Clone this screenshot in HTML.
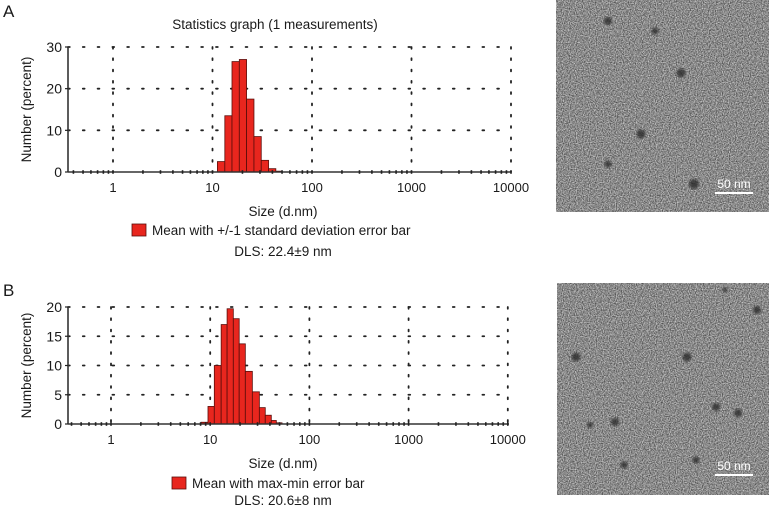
<!DOCTYPE html>
<html><head><meta charset="utf-8"><style>
body{margin:0;background:#fff;width:769px;height:510px;overflow:hidden;font-family:"Liberation Sans",Arial,sans-serif}
svg text{font-family:"Liberation Sans",Arial,sans-serif;fill:#1a1a1a}
</style></head><body>
<svg id="root" width="769" height="510" xmlns="http://www.w3.org/2000/svg">
<defs>
<filter id="noise" x="0" y="0" width="100%" height="100%" color-interpolation-filters="sRGB">
<feTurbulence type="fractalNoise" baseFrequency="0.85" numOctaves="2" seed="3"/>
<feColorMatrix type="matrix" values="0.9 0 0 0 0.09  0.9 0 0 0 0.09  0.9 0 0 0 0.09  0 0 0 0 1"/>
</filter>
<filter id="blur"><feGaussianBlur stdDeviation="1.2"/></filter>
</defs>
<text x="3" y="17" font-size="17">A</text>
<text x="3" y="296" font-size="17">B</text>
<g id="chartA"></g>
<g id="chartB"></g>
<g id="temA"></g>
<g id="temB"></g>
</svg>
<script>
// Chart A data
const binsA = [11.2, 13.3, 15.7, 18.6, 22.0, 26.1, 30.9, 36.6, 43.3];
const valuesA = [2.5, 13.5, 26.5, 27, 17.5, 8.5, 2.8, 0.8, 0.2];
const yTicksA = [0, 10, 20, 30];
// Chart B data
const binsB = [8.1, 9.5, 11.0, 12.9, 14.8, 17.1, 19.6, 22.6, 26.6, 31.3, 35.9, 41.3, 46.4, 53];
const valuesB = [0.3, 3, 10, 17, 19.7, 18, 13.7, 9, 5.5, 2.8, 1.5, 0.6, 0.2];
const yTicksB = [0, 5, 10, 15, 20];
const xTicks = [1, 10, 100, 1000, 10000];
const xTickLabels = ["1", "10", "100", "1000", "10000"];

const NS = "http://www.w3.org/2000/svg";
function mk(parent, tag, attrs, text){
  const e = document.createElementNS(NS, tag);
  for (const k in attrs) e.setAttribute(k, attrs[k]);
  if (text !== undefined) e.textContent = text;
  parent.appendChild(e);
  return e;
}

function drawChart(g, cfg){
  const xs = v => cfg.x1 + (Math.log10(v)) * cfg.dec;
  const ys = v => cfg.y0 - v / cfg.ymax * (cfg.y0 - cfg.ytop);
  const L = cfg.left, R = cfg.right;
  cfg.yTicks.forEach(t => {
    if (t === 0) return;
    const gl = mk(g, "line", {x1: L, x2: R, y1: ys(t), y2: ys(t), stroke: "#222", "stroke-width": 1.8, "stroke-dasharray": "1.8,13", "stroke-linecap": "round"});
    
    
  });
  cfg.xTicks.forEach(t => {
    const gl = mk(g, "line", {x1: xs(t), x2: xs(t), y1: cfg.ytop, y2: cfg.y0, stroke: "#222", "stroke-width": 1.8, "stroke-dasharray": "1.8,9.5", "stroke-linecap": "round"});
    
    
  });
  for (let i = 0; i < cfg.values.length; i++){
    const xa = xs(cfg.bins[i]);
    const xb = cfg.bins[i+1] ? xs(cfg.bins[i+1]) : xa + 6;
    const r = mk(g, "rect", {x: xa, y: ys(cfg.values[i]), width: xb - xa, height: cfg.y0 - ys(cfg.values[i]), fill: "#e8261e", stroke: "#5a0d0a", "stroke-width": 0.8});
    
    
  }
  const ax = mk(g, "line", {x1: L, x2: R, y1: cfg.y0, y2: cfg.y0, stroke: "#333", "stroke-width": 1.6});
  
  
  const ay = mk(g, "line", {x1: L, x2: L, y1: cfg.ytop, y2: cfg.y0, stroke: "#333", "stroke-width": 1.6});
  
  
  for (let d = 0.1; d < 20000; d *= 10){
    for (let m = 1; m < 10; m++){
      const v = d * m, x = xs(v);
      if (x < L + 3 || x > R + 1) continue;
      const tk = mk(g, "line", {x1: x, x2: x, y1: cfg.y0 - 1.8, y2: cfg.y0 + 1.8, stroke: "#222", "stroke-width": 1.6});
      
      
    }
  }
  cfg.yTicks.forEach(t => {
    const tk = mk(g, "line", {x1: L - 3, x2: L, y1: ys(t), y2: ys(t), stroke: "#222", "stroke-width": 1.2});
    
    
    const tl = mk(g, "text", {x: L - 6, y: ys(t) + 5, "font-size": 14, "text-anchor": "end"}, String(t));
    
    
  });
  cfg.xTicks.forEach((t, i) => {
    const tl = mk(g, "text", {x: xs(t), y: cfg.y0 + 20, "font-size": 13, "text-anchor": "middle"}, cfg.xTickLabels[i]);
    
    
  });
  const xt = mk(g, "text", {x: 283, y: cfg.y0 + 44, "font-size": 13.5, "text-anchor": "middle"}, "Size (d.nm)");
  
  
  const cy = (cfg.ytop + cfg.y0) / 2;
  const yt = mk(g, "text", {x: 31, y: cy, "font-size": 13.5, "text-anchor": "middle", transform: `rotate(-90 31 ${cy})`}, "Number (percent)");
  
  
  const lw = mk(g, "rect", {x: cfg.legX, y: cfg.legY - 11, width: 14, height: 12, fill: "#e8261e", stroke: "#5a0d0a", "stroke-width": 0.8});
  
  
  const lt = mk(g, "text", {x: cfg.legX + 20, y: cfg.legY, "font-size": 13.5}, cfg.legend);
  
  
  const dl = mk(g, "text", {x: 283, y: cfg.dlsY, "font-size": 13.5, "text-anchor": "middle"}, cfg.dls);
  
  
  if (cfg.title){
    const tt = mk(g, "text", {x: 275, y: 29, "font-size": 13.5, "text-anchor": "middle"}, cfg.title);
    
    
  }
}

drawChart(document.getElementById("chartA"), {
  bins: binsA, values: valuesA, yTicks: yTicksA, xTicks, xTickLabels,
  x1: 113, dec: 99.5, left: 68, right: 511, y0: 172, ytop: 47, ymax: 30,
  legX: 132, legY: 235, legend: "Mean with +/-1 standard deviation error bar",
  dls: "DLS: 22.4\u00b19 nm", dlsY: 256, title: "Statistics graph (1 measurements)"
});
drawChart(document.getElementById("chartB"), {
  bins: binsB, values: valuesB, yTicks: yTicksB, xTicks, xTickLabels,
  x1: 111, dec: 99.2, left: 68, right: 509, y0: 424, ytop: 307, ymax: 20,
  legX: 172, legY: 488, legend: "Mean with max-min  error bar",
  dls: "DLS: 20.6\u00b18 nm", dlsY: 505, title: null
});

function tem(g, x, y, w, h, dots, barY){
  const bg = mk(g, "rect", {x, y, width: w, height: h, fill: "#8c8c8c", filter: "url(#noise)"});
  
  
  dots.forEach(d => {
    const c = mk(g, "circle", {cx: x + d[0], cy: y + d[1], r: d[2], fill: "#2a2a2a", opacity: 0.8, filter: "url(#blur)"});
    
    
  });
  const sl = mk(g, "text", {x: x + w - 35, y: barY - 4, "font-size": 12, "text-anchor": "middle", style: "fill:#fff"}, "50 nm");
  
  
  const sb = mk(g, "rect", {x: x + w - 54, y: barY, width: 38, height: 2, fill: "#fff"});
  
  
}
tem(document.getElementById("temA"), 556, 0, 213, 212,
  [[52,21,4],[99,31,3.5],[125,73,4.5],[85,134,4.5],[52,164,3.5],[138,184,5]], 192);
tem(document.getElementById("temB"), 557, 283, 212, 212,
  [[19,74,4.5],[130,74,4.5],[200,27,4],[58,139,4],[159,124,4],[181,130,4],[33,142,3],[67,182,3.5],[139,177,3.5],[168,7,2.5]], 474);
</script>
</body></html>
